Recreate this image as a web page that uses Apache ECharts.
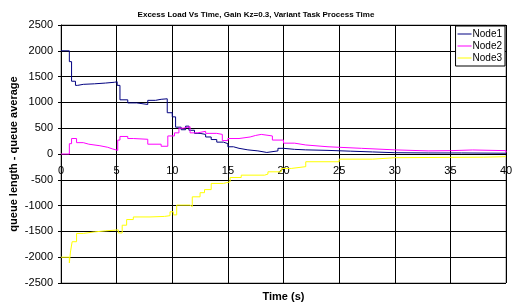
<!DOCTYPE html>
<html>
<head>
<meta charset="utf-8">
<script src="https://cdn.jsdelivr.net/npm/echarts@6/dist/echarts.min.js"></script>
<style>
  html, body { margin: 0; padding: 0; background: #fff; }
  #chart { width: 512px; height: 302px; }
</style>
</head>
<body>
<div id="chart"></div>
<script>
// [time (s), excess load]
const node1 = [
  [0, 2000], [0.75, 1790], [0.95, 1410], [1.3, 1330], [1.5, 1350], [2, 1360], [3, 1375],
  [4, 1390], [4.8, 1400], [5.05, 1330], [5.3, 1050], [6, 990], [6.8, 960], [7.8, 1040],
  [8.5, 1060], [9.0, 1070], [9.55, 800], [10.0, 720], [10.3, 520], [10.8, 470], [11.2, 540],
  [11.5, 460], [12, 400], [12.5, 380], [13, 330], [13.5, 280], [14, 230], [14.6, 200],
  [15, 140], [15.5, 110], [16, 80], [16.8, 60], [17.7, 30], [18.5, 60], [19.5, 110],
  [20, 90], [21, 80], [22, 70], [24, 55], [26, 40], [28, 25], [30, 20], [33, 20], [36, 15], [40, 5]
]
const node2 = [
  [0, 0], [0.75, 200], [0.95, 300], [1.4, 220], [2, 190], [2.5, 160], [3.5, 130], [4.2, 100],
  [4.6, 70], [5.1, 270], [5.3, 340], [6, 300], [6.5, 285], [7.8, 190], [9, 150], [9.6, 350],
  [10.2, 410], [10.6, 500], [11, 530], [11.6, 410], [12.3, 440], [13, 400], [14, 380],
  [14.5, 260], [15, 300], [16, 330], [17, 360], [17.5, 380], [18, 350], [19, 270], [20, 210],
  [21, 175], [22, 140], [24, 110], [27, 80], [30, 60], [33, 65], [35, 78], [37, 65], [40, 30]
]
const node3 = [
  [0, -2000], [0.75, -2110], [0.85, -1900], [1.0, -1700], [1.4, -1540], [2, -1510], [3, -1490],
  [4, -1470], [5.15, -1530], [5.5, -1380], [5.9, -1270], [6.5, -1220], [8, -1210], [9.3, -1195],
  [9.8, -1120], [10.1, -1180], [10.4, -990], [11.6, -1020], [11.8, -830], [12.5, -750],
  [12.9, -690], [13.5, -570], [14.6, -540], [15.2, -455], [16.2, -410], [18.3, -390],
  [18.6, -345], [19.8, -280], [20.7, -245], [22, -150], [25, -100], [28, -72], [30, -65],
  [35, -62], [38, -52], [40, -40]
]
const seriesNames = ['Node1', 'Node2', 'Node3']
const seriesColors = ['#000080', '#ff00ff', '#ffff00']

const chart = echarts.init(document.getElementById('chart'), null, { renderer: 'canvas' })

const font = '"Liberation Sans", Arial, sans-serif'

chart.setOption({
  animation: false,
  title: {
    text: 'Excess Load Vs Time, Gain Kz=0.3, Variant Task Process Time',
    left: 'center',
    top: 6,
    textStyle: { fontFamily: font, fontSize: 8, fontWeight: 'bold', color: '#000' }
  },
  legend: {
    data: seriesNames,
    orient: 'vertical',
    right: 7,
    top: 26,
    padding: [3, 3, 3, 2],
    itemGap: 2,
    itemWidth: 14,
    itemHeight: 10,
    borderColor: '#000',
    borderWidth: 1,
    backgroundColor: '#fff',
    icon: 'path://M0,5L14,5L14,6L0,6Z',
    textStyle: { fontFamily: font, fontSize: 10, color: '#000', padding: [0, 0, 0, -4] }
  },
  grid: {
    left: 61,
    right: 6,
    top: 25,
    bottom: 19,
    containLabel: false,
    outerBoundsMode: 'none',
    show: true,
    borderColor: '#888',
    borderWidth: 1
  },
  xAxis: [
    {
      // grid lines only
      type: 'value',
      min: 0,
      max: 40,
      interval: 5,
      axisLine: { show: false },
      axisTick: { show: false },
      axisLabel: { show: false },
      splitLine: { show: true, lineStyle: { color: '#000', width: 1 } }
    },
    {
      // axis drawn along the zero line
      type: 'value',
      position: 'bottom',
      offset: -129,
      min: 0,
      max: 40,
      interval: 5,
      name: 'Time (s)',
      nameLocation: 'middle',
      nameGap: 137,
      nameMoveOverlap: false,
      nameTextStyle: { fontFamily: font, fontSize: 11, fontWeight: 'bold', color: '#000' },
      axisLine: { show: true, onZero: false, lineStyle: { color: '#000', width: 1 } },
      axisTick: { show: false },
      axisLabel: { fontFamily: font, fontSize: 11, color: '#000', margin: 11 },
      splitLine: { show: false }
    }
  ],
  yAxis: {
    type: 'value',
    min: -2500,
    max: 2500,
    interval: 500,
    name: 'queue length - queue average',
    nameLocation: 'middle',
    nameGap: 42,
    nameMoveOverlap: false,
    nameTextStyle: { fontFamily: font, fontSize: 11, fontWeight: 'bold', color: '#000' },
    axisLine: { show: true, onZero: false, lineStyle: { color: '#000', width: 1 } },
    axisTick: { show: true, length: 3, lineStyle: { color: '#000' } },
    axisLabel: { fontFamily: font, fontSize: 11, color: '#000', margin: 8, formatter: v => String(v) },
    splitLine: { show: true, lineStyle: { color: '#000', width: 1 } }
  },
  series: [node1, node2, node3].map((d, i) => ({
    name: seriesNames[i],
    type: 'line',
    step: 'end',
    data: d,
    symbol: 'none',
    color: seriesColors[i],
    lineStyle: { color: seriesColors[i], width: 1 }
  }))
})
</script>
</body>
</html>
